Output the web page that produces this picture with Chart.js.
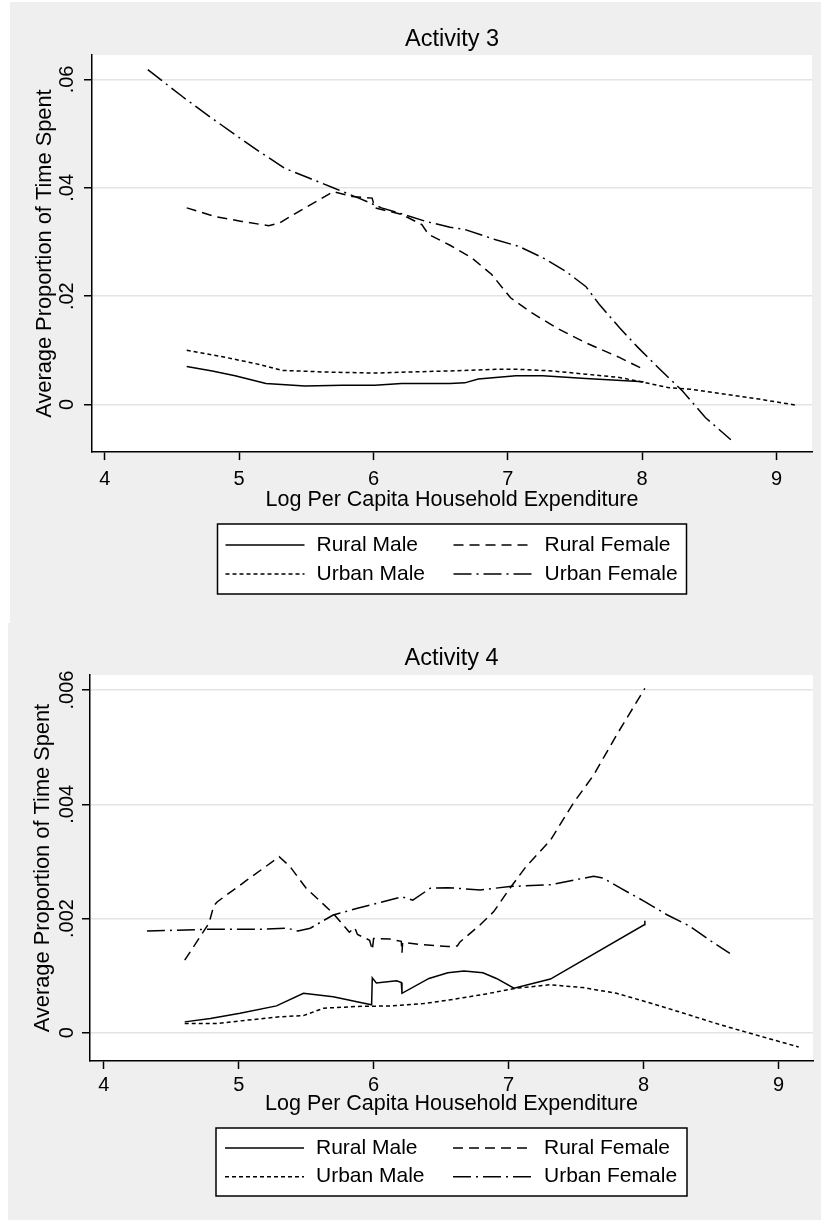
<!DOCTYPE html>
<html><head><meta charset="utf-8">
<script src="https://cdn.jsdelivr.net/npm/chart.js@4.4.1/dist/chart.umd.min.js"></script>
<style>
html,body{margin:0;padding:0;background:#fff;}
body{width:821px;height:1220px;position:relative;overflow:hidden;}
#p1{position:absolute;left:10px;top:2px;width:811px;height:621px;}
#p2{position:absolute;left:8px;top:623px;width:813px;height:597px;}
canvas{display:block;}
</style></head><body>
<div id="p1"><canvas id="c1" width="811" height="621"></canvas></div>
<div id="p2"><canvas id="c2" width="813" height="597"></canvas></div>
<script>
// ---------- data ----------
const seriesLabels = ['Rural Male', 'Rural Female', 'Urban Male', 'Urban Female'];
const xTickValues = [4, 5, 6, 7, 8, 9];
const xTickLabels = ['4', '5', '6', '7', '8', '9'];

// Activity 3
const a3YTickValues = [0, 0.02, 0.04, 0.06];
const a3YTickLabels = ['0', '.02', '.04', '.06'];
const a3RuralMaleX = [4.61,4.80,4.97,5.20,5.49,5.77,6.01,6.21,6.57,6.68,6.78,7.06,7.26,7.58,8.01];
const a3RuralMaleY = [.0070,.0062,.0053,.0039,.0034,.00355,.00355,.0039,.0039,.0040,.0047,.0053,.0053,.0048,.0042];
const a3RuralFemaleX = [4.61,4.82,5.02,5.22,5.30,5.49,5.64,5.70,5.84,5.99,6.01,6.21,6.36,6.41,6.57,6.73,6.88,7.02,7.18,7.38,7.58,7.83,8.01];
const a3RuralFemaleY = [.0363,.0347,.0338,.0330,.0335,.0363,.0384,.0393,.0384,.0381,.0363,.0351,.0332,.0314,.0294,.0271,.0240,.0197,.0169,.0139,.0114,.0087,.0065];
const a3UrbanMaleX = [4.61,4.90,5.15,5.32,5.64,6.01,6.26,6.57,6.91,7.08,7.33,7.58,7.83,8.01,8.20,8.37,8.62,8.87,9.14];
const a3UrbanMaleY = [.0100,.0087,.0074,.0063,.0060,.0058,.0060,.0062,.0065,.0065,.0062,.0056,.0050,.0041,.0031,.0028,.0019,.0010,-.0001];
const a3UrbanFemaleX = [4.32,4.58,4.76,4.97,5.15,5.34,5.52,5.70,5.89,6.06,6.21,6.39,6.57,6.68,6.91,7.08,7.26,7.43,7.58,7.68,7.83,7.97,8.12,8.30,8.47,8.66];
const a3UrbanFemaleY = [.0618,.0568,.0535,.0498,.0467,.0436,.0418,.0400,.0381,.0363,.0352,.0338,.0327,.0323,.0304,.0292,.0271,.0246,.0218,.0185,.0142,.0105,.0068,.0025,-.0024,-.0065];

// Activity 4
const a4YTickValues = [0, 0.002, 0.004, 0.006];
const a4YTickLabels = ['0', '.002', '.004', '.006'];
const a4RuralMaleX = [4.60,4.79,5.01,5.28,5.48,5.70,5.92,5.985,5.99,6.02,6.17,6.205,6.21,6.41,6.55,6.67,6.81,6.91,7.04,7.31,8.005,8.01];
const a4RuralMaleY = [.00019,.00025,.00034,.00047,.00069,.00063,.00052,.00049,.00096,.00087,.00091,.00088,.00069,.00095,.00105,.00108,.00105,.00095,.00078,.00094,.00189,.00196];
const a4RuralFemaleX = [4.60,4.78,4.815,4.84,5.06,5.30,5.38,5.50,5.70,5.82,5.86,5.88,5.97,5.99,6.00,6.12,6.205,6.21,6.215,6.37,6.55,6.56,6.62,6.64,6.79,6.89,7.01,7.13,7.31,7.48,7.63,7.80,8.01];
const a4RuralFemaleY = [.00127,.00192,.00222,.00229,.00267,.00308,.00291,.00253,.00209,.00176,.00184,.00172,.00162,.00145,.00165,.00164,.00160,.00140,.00158,.00154,.00151,.00151,.00152,.00159,.00189,.00212,.00253,.00291,.00337,.00402,.00451,.00521,.00603];
const a4UrbanMaleX = [4.60,4.84,5.06,5.31,5.48,5.63,5.88,6.12,6.37,6.55,6.81,7.06,7.31,7.55,7.80,8.05,8.30,8.54,8.79,9.15];
const a4UrbanMaleY = [.00016,.00016,.00022,.00028,.00030,.00043,.00046,.00047,.00051,.00057,.00067,.00078,.00084,.00079,.00069,.00052,.00034,.00016,-.00001,-.00025];
const a4UrbanFemaleX = [4.32,4.76,5.13,5.36,5.44,5.53,5.70,5.88,6.00,6.21,6.29,6.42,6.55,6.79,7.01,7.31,7.48,7.63,7.70,7.83,8.00,8.17,8.34,8.49,8.64];
const a4UrbanFemaleY = [.00178,.00181,.00181,.00183,.00178,.00183,.00206,.00218,.00225,.00238,.00232,.00253,.00254,.00250,.00256,.00259,.00267,.00274,.00271,.00253,.00231,.00207,.00187,.00162,.00139];

// ---------- styling ----------
const FONT = '"Liberation Sans", Arial, Helvetica, sans-serif';
Chart.defaults.font.family = FONT;
Chart.defaults.color = '#000';
const dashStyles = [[], [10, 6], [4, 3], [18, 5, 2, 5]];

function pts(xs, ys) { return xs.map((x, i) => ({x: x, y: ys[i]})); }

const panelBg = {
  id: 'panelBg',
  beforeDraw(chart) {
    const {ctx, chartArea: a, width, height} = chart;
    ctx.save();
    ctx.fillStyle = '#efefef';
    ctx.fillRect(0, 0, width, height);
    ctx.fillStyle = '#ffffff';
    ctx.fillRect(a.left, a.top, a.right - a.left, a.bottom - a.top);
    ctx.restore();
  }
};

const stataLegend = {
  id: 'stataLegend',
  afterDraw(chart, args, o) {
    const {ctx, chartArea} = chart;
    const cx = (chartArea.left + chartArea.right) / 2;
    const left = cx - o.width / 2, top = o.top;
    ctx.save();
    ctx.fillStyle = '#fff';
    ctx.fillRect(left, top, o.width, o.height);
    ctx.strokeStyle = '#000';
    ctx.lineWidth = 1.5;
    ctx.setLineDash([]);
    ctx.strokeRect(left, top, o.width, o.height);
    ctx.font = '21px ' + FONT;
    ctx.textBaseline = 'middle';
    ctx.textAlign = 'left';
    chart.data.datasets.forEach((d, i) => {
      const col = i % 2, row = Math.floor(i / 2);
      const x0 = left + o.colX[col];
      const y = top + o.rowY[row];
      ctx.strokeStyle = '#000';
      ctx.lineWidth = d.borderWidth;
      ctx.setLineDash(d.borderDash || []);
      ctx.beginPath();
      ctx.moveTo(x0, y);
      ctx.lineTo(x0 + o.sampleLen, y);
      ctx.stroke();
      ctx.setLineDash([]);
      ctx.fillStyle = '#000';
      ctx.fillText(d.label, x0 + o.sampleLen + o.gap, y);
    });
    ctx.restore();
  }
};

function makeChart(id, c) {
  const datasets = c.series.map((s, i) => ({
    label: seriesLabels[i],
    data: pts(s[0], s[1]),
    borderColor: '#000',
    borderWidth: 1.5,
    borderDash: dashStyles[i],
    pointRadius: 0,
    fill: false,
    tension: 0
  }));
  return new Chart(document.getElementById(id), {
    type: 'line',
    data: {datasets: datasets},
    plugins: [panelBg, stataLegend],
    options: {
      responsive: false,
      animation: false,
      devicePixelRatio: 1,
      events: [],
      layout: {padding: c.pad},
      plugins: {
        legend: {display: false},
        tooltip: {enabled: false},
        title: {
          display: true, text: c.title, color: '#000', fullSize: false,
          font: {family: FONT, size: 23.5, weight: 'normal'},
          padding: c.titlePad
        },
        stataLegend: c.legend
      },
      scales: {
        x: {
          type: 'linear', min: c.xMin, max: c.xMax,
          afterBuildTicks: s => { s.ticks = xTickValues.map(v => ({value: v})); },
          afterFit: s => { s.height = c.xHeight; },
          ticks: {
            color: '#000', font: {family: FONT, size: 20}, padding: c.xTickPad,
            maxRotation: 0, autoSkip: false,
            callback: (v, i) => xTickLabels[i]
          },
          grid: {drawOnChartArea: false, drawTicks: true, tickLength: 8, tickColor: '#000', tickWidth: 1.5},
          border: {display: true, color: '#000', width: 1.5},
          title: {display: true, text: 'Log Per Capita Household Expenditure', color: '#000',
                  font: {family: FONT, size: 21.5}, padding: {top: 0, bottom: 0}}
        },
        y: {
          type: 'linear', min: c.yMin, max: c.yMax,
          afterBuildTicks: s => { s.ticks = c.yTicks.map(v => ({value: v})); },
          afterFit: s => { s.width = 72; },
          ticks: {
            color: '#000', font: {family: FONT, size: 20}, padding: c.yTickPad,
            minRotation: 90, maxRotation: 90, crossAlign: 'center', autoSkip: false,
            callback: (v, i) => c.yLabels[i]
          },
          grid: {color: '#e4e4e4', lineWidth: 1.5, drawTicks: true, tickLength: 8, tickColor: '#000', tickWidth: 1.5},
          border: {display: true, color: '#000', width: 1.5},
          title: {display: true, text: 'Average Proportion of Time Spent', color: '#000',
                  font: {family: FONT, size: 21.8}, padding: {top: 11.7, bottom: 0}}
        }
      }
    }
  });
}

makeChart('c1', {
  title: 'Activity 3',
  series: [[a3RuralMaleX, a3RuralMaleY], [a3RuralFemaleX, a3RuralFemaleY], [a3UrbanMaleX, a3UrbanMaleY], [a3UrbanFemaleX, a3UrbanFemaleY]],
  yTicks: a3YTickValues, yLabels: a3YTickLabels,
  xMin: 3.905, xMax: 9.264, yMin: -0.00878, yMax: 0.06451,
  pad: {left: 10, right: 9, top: 0, bottom: 110.4},
  titlePad: {top: 23.7, bottom: 1.1},
  xHeight: 60.5, xTickPad: 7, yTickPad: 3,
  legend: {top: 522, width: 469, height: 70, rowY: [21, 50], colX: [8, 236], sampleLen: 79, gap: 12}
});

makeChart('c2', {
  title: 'Activity 4',
  series: [[a4RuralMaleX, a4RuralMaleY], [a4RuralFemaleX, a4RuralFemaleY], [a4UrbanMaleX, a4UrbanMaleY], [a4UrbanFemaleX, a4UrbanFemaleY]],
  yTicks: a4YTickValues, yLabels: a4YTickLabels,
  xMin: 3.898, xMax: 9.256, yMin: -0.000495, yMax: 0.006263,
  pad: {left: 10, right: 8, top: 0, bottom: 102.8},
  titlePad: {top: 21.6, bottom: 2.2},
  xHeight: 56.2, xTickPad: 4.5, yTickPad: -5,
  legend: {top: 505, width: 471, height: 68, rowY: [20, 48.7], colX: [9, 237], sampleLen: 79, gap: 12}
});
</script>
</body></html>
